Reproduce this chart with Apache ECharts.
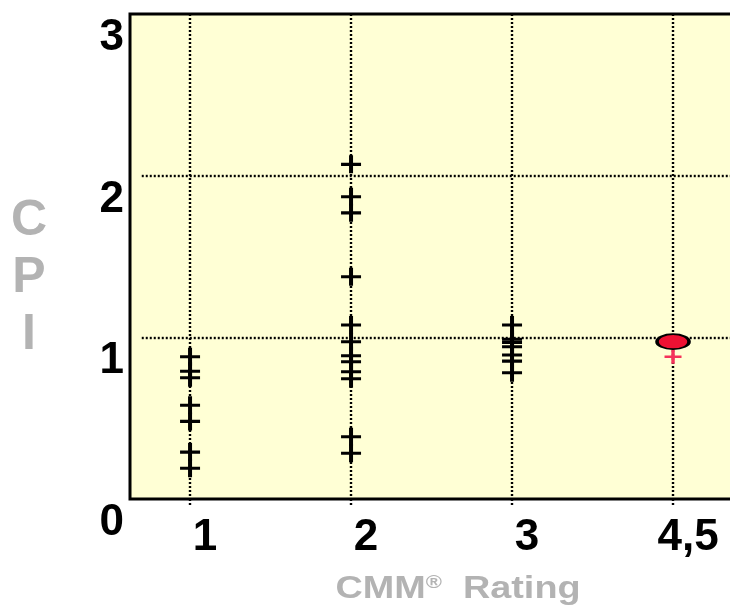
<!DOCTYPE html>
<html>
<head>
<meta charset="utf-8">
<script src="https://cdn.jsdelivr.net/npm/echarts@6/dist/echarts.min.js"></script>
<style>
  html, body { margin: 0; padding: 0; background: #ffffff; }
  #chart { width: 730px; height: 615px; }
</style>
</head>
<body>
<div id="chart"></div>
<script>
// CMM rating levels (x positions) and their printed labels
const ratingLevels = [1, 2, 3, 4];
const ratingLabels = ['1', '2', '3', '4,5'];

// CPI values of the projects at each rating level
const cpiLevel1 = [0.88, 0.79, 0.75, 0.58, 0.48, 0.29, 0.19];
const cpiLevel2 = [2.07, 1.87, 1.77, 1.375, 1.076, 0.973, 0.886, 0.849, 0.787, 0.744, 0.385, 0.283];
const cpiLevel3 = [1.076, 0.988, 0.969, 0.942, 0.891, 0.853, 0.781];
const cpiLevel45 = [0.88];
// average CPI at level 4,5
const cpiLevel45Mean = [0.973];

// CPI gridline levels
const cpiGridLevels = [1, 2];

const FONT = '"Liberation Sans", Arial, sans-serif';
const GRAY = '#b3b3b3';
const X_MIN = 0.627;
const X_MAX = 4.416;
const H_LINE_START = 0.70;

const PLUS = 'path://M8,0H12V8.3H20V11.7H12V20H8V11.7H0V8.3H8Z';

function pairs(level, values) {
  return values.map(v => [level, v]);
}

const chart = echarts.init(document.getElementById('chart'), null, { renderer: 'canvas' });

const dotted = { color: '#000', width: 2.4, type: [2, 2] };

chart.setOption({
  backgroundColor: '#ffffff',
  animation: false,
  grid: {
    left: 130, top: 14, width: 610, height: 485,
    show: true,
    backgroundColor: '#ffffd5',
    borderColor: '#000',
    borderWidth: 3,
    containLabel: false,
    outerBoundsMode: 'none'
  },
  xAxis: {
    type: 'value',
    min: X_MIN,
    max: X_MAX,
    axisLine: { show: false },
    axisTick: {
      show: true,
      customValues: ratingLevels,
      length: 7,
      lineStyle: dotted
    },
    splitLine: { show: true, lineStyle: dotted },
    axisLabel: {
      customValues: ratingLevels,
      formatter: v => ratingLabels[ratingLevels.indexOf(v)],
      fontSize: 44,
      fontWeight: 'bold',
      fontFamily: FONT,
      color: '#000',
      margin: 15,
      lineHeight: 48,
      padding: [0, 0, 0, 30]
    }
  },
  yAxis: {
    type: 'value',
    min: 0,
    max: 3,
    interval: 1,
    axisLine: { show: false },
    axisTick: { show: false },
    splitLine: { show: false },
    axisLabel: {
      fontSize: 44,
      fontWeight: 'bold',
      fontFamily: FONT,
      color: '#000',
      margin: 6,
      verticalAlign: 'top',
      lineHeight: 48
    }
  },
  graphic: [
    {
      // vertical y-axis title
      type: 'text',
      x: 29,
      y: 278,
      style: {
        text: 'C\nP\nI',
        align: 'center',
        verticalAlign: 'middle',
        font: 'bold 50px ' + FONT,
        lineHeight: 57,
        fill: GRAY
      }
    },
    {
      // x-axis title with superscript ®
      type: 'text',
      x: 458,
      y: 589,
      scaleX: 1.22,
      style: {
        text: '{a|CMM}{s|®}{a|  Rating}',
        align: 'center',
        verticalAlign: 'middle',
        rich: {
          a: { fontSize: 31, fontWeight: 'bold', fontFamily: FONT, fill: GRAY },
          s: { fontSize: 18, fontWeight: 'bold', fontFamily: FONT, fill: GRAY, padding: [0, 0, 12, 0] }
        }
      }
    }
  ],
  series: [
    {
      type: 'scatter',
      name: 'CPI level 1-3',
      symbol: PLUS,
      symbolSize: [20, 18],
      itemStyle: { color: '#000', opacity: 1 },
      data: [].concat(
        pairs(ratingLevels[0], cpiLevel1),
        pairs(ratingLevels[1], cpiLevel2),
        pairs(ratingLevels[2], cpiLevel3)
      ),
      silent: true,
      z: 3,
      markLine: {
        silent: true,
        z: 1,
        symbol: 'none',
        label: { show: false },
        lineStyle: dotted,
        data: cpiGridLevels.map(l => [{ coord: [H_LINE_START, l] }, { coord: [X_MAX, l] }])
      }
    },
    {
      type: 'scatter',
      name: 'CPI level 4,5',
      symbol: PLUS,
      symbolSize: [17, 14],
      itemStyle: { color: '#f5325a', opacity: 1 },
      data: pairs(ratingLevels[3], cpiLevel45),
      silent: true,
      z: 3
    },
    {
      type: 'scatter',
      name: 'Mean CPI level 4,5',
      symbol: 'circle',
      symbolSize: [32, 15],
      itemStyle: { color: '#ee1133', borderColor: '#000', borderWidth: 2.5, opacity: 1 },
      data: pairs(ratingLevels[3], cpiLevel45Mean),
      silent: true,
      z: 4
    }
  ]
});
</script>
</body>
</html>
